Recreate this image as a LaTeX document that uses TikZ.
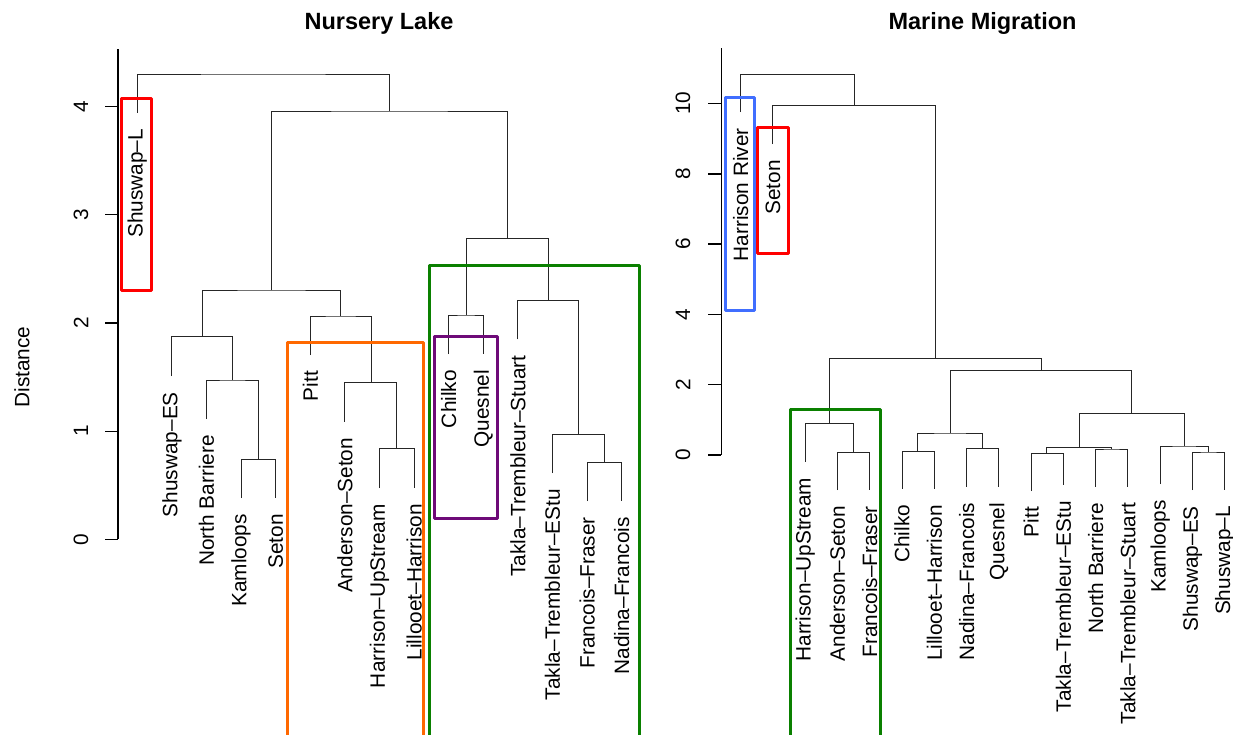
\documentclass[tikz,border=0pt]{standalone}
\usepackage{fontspec}
\setmainfont{Liberation Sans}
\definecolor{cred}{RGB}{255,0,0}
\definecolor{corange}{RGB}{255,104,0}
\definecolor{cgreen}{RGB}{10,128,0}
\definecolor{cpurple}{RGB}{110,10,120}
\definecolor{cblue}{RGB}{64,110,255}
\begin{document}
\begin{tikzpicture}[x=1pt,y=-1pt,
  tree/.style={draw=black!85,line width=1pt},
  axisline/.style={draw=black,line width=1.1pt},
  hilite/.style={line width=3pt,line join=round},
  leaflab/.style={rotate=90,anchor=east,inner sep=0pt,font=\fontsize{20.8}{24}\selectfont},
  ticklab/.style={rotate=90,anchor=center,inner sep=0pt,font=\fontsize{20.8}{24}\selectfont},
  titlelab/.style={anchor=base,inner sep=0pt,font=\fontsize{23.5}{27}\selectfont\bfseries}]
\useasboundingbox (0,0) rectangle (1233,734);
\fill[white] (0,0) rectangle (1233,734);

% ---------------- titles ----------------
\node[titlelab] (t1) at (379,29) {Nursery Lake};
\node[titlelab] (t2) at (982.5,29) {Marine Migration};
\node[ticklab] (ylab) at (22,367) {Distance};

% ---------------- left axis ----------------
\draw[axisline] (118,49) -- (118,539.4);
\foreach \v/\yy in {0/539.4,1/431.2,2/323,3/214.8,4/106.6}{
  \draw[axisline] (105,\yy) -- (118,\yy);
  \node[ticklab] (la\v) at (81,\yy) {\v};
}

% ---------------- right axis ----------------
\draw[axisline] (721.3,48) -- (721.3,455);
\foreach \v/\yy in {0/455,2/384.7,4/314.3,6/244,8/174,10/103.3}{
  \draw[axisline] (708.3,\yy) -- (721.3,\yy);
  \node[ticklab] (ra\v) at (683,\yy) {\v};
}

% ---------------- left dendrogram: leaf tips ----------------
\foreach \k/\e/\lab in {1/112.7/Shuswap–L,2/376/Shuswap–ES,3/419/North Barriere,4/498/Kamloops,5/498/Seton,
  6/355/Pitt,7/421.7/Anderson–Seton,8/488/Harrison–UpStream,9/488/Lillooet–Harrison,10/354/Chilko,
  11/354/Quesnel,12/339.3/Takla–Trembleur–Stuart,13/473/Takla–Trembleur–EStu,14/501/Francois–Fraser,15/501/Nadina–Francois}{
  \coordinate (L\k) at ({137.3+34.6*(\k-1)},\e);
  \node[leaflab] (LL\k) at ({137.3+34.6*(\k-1)},\e+16) {\lab};
}
% merge points
\coordinate (m45) at (258.5,459.3);
\coordinate (m345) at (232.6,380);
\coordinate (m2345) at (202.3,336.7);
\coordinate (m89) at (396.85,448.7);
\coordinate (m789) at (371,382.7);
\coordinate (m6789) at (340.6,316);
\coordinate (mA) at (271.5,290);
\coordinate (m1011) at (466.3,315);
\coordinate (m1415) at (604.7,462.3);
\coordinate (m1315) at (578.7,434.3);
\coordinate (m1215) at (548.3,300.7);
\coordinate (mB) at (507.3,238.3);
\coordinate (mAB) at (389.4,111);
\coordinate (mroot) at (263,74);

\draw[tree] (L4) |- (m45) -| (L5);
\draw[tree] (L3) |- (m345) -| (m45);
\draw[tree] (L2) |- (m2345) -| (m345);
\draw[tree] (L8) |- (m89) -| (L9);
\draw[tree] (L7) |- (m789) -| (m89);
\draw[tree] (L6) |- (m6789) -| (m789);
\draw[tree] (m2345) |- (mA) -| (m6789);
\draw[tree] (L10) |- (m1011) -| (L11);
\draw[tree] (L14) |- (m1415) -| (L15);
\draw[tree] (L13) |- (m1315) -| (m1415);
\draw[tree] (L12) |- (m1215) -| (m1315);
\draw[tree] (m1011) |- (mB) -| (m1215);
\draw[tree] (mA) |- (mAB) -| (mB);
\draw[tree] (L1) |- (mroot) -| (mAB);

% ---------------- right dendrogram: leaf tips ----------------
\foreach \k/\e/\lab in {1/112/Harrison River,2/144/Seton,3/461.5/Harrison–UpStream,4/490/Anderson–Seton,
  5/490/Francois–Fraser,6/488.7/Chilko,7/488.7/Lillooet–Harrison,8/486.7/Nadina–Francois,9/486.7/Quesnel,
  10/491/Pitt,11/485/Takla–Trembleur–EStu,12/486.7/North Barriere,13/486.7/Takla–Trembleur–Stuart,
  14/484/Kamloops,15/490/Shuswap–ES,16/490/Shuswap–L}{
  \coordinate (R\k) at ({740.7+32.267*(\k-1)},\e);
  \node[leaflab] (RL\k) at ({740.7+32.267*(\k-1)},\e+16) {\lab};
}
\coordinate (r45) at (853.3,452.3);
\coordinate (r345) at (829.5,423.3);
\coordinate (r67) at (917.8,451.3);
\coordinate (r89) at (982.8,448.7);
\coordinate (r6789) at (950.3,433);
\coordinate (r1011) at (1046.9,453.3);
\coordinate (r1213) at (1111.7,449);
\coordinate (rTT) at (1079.3,447.7);
\coordinate (r1516) at (1208.7,452);
\coordinate (r1416) at (1184,446);
\coordinate (rTK) at (1131.7,413.3);
\coordinate (rC) at (1041,370.7);
\coordinate (rD) at (935.3,358.3);
\coordinate (rE) at (854,105.7);
\coordinate (rroot) at (797,74.3);

\draw[tree] (R4) |- (r45) -| (R5);
\draw[tree] (R3) |- (r345) -| (r45);
\draw[tree] (R6) |- (r67) -| (R7);
\draw[tree] (R8) |- (r89) -| (R9);
\draw[tree] (r67) |- (r6789) -| (r89);
\draw[tree] (R10) |- (r1011) -| (R11);
\draw[tree] (R12) |- (r1213) -| (R13);
\draw[tree] (r1011) |- (rTT) -| (r1213);
\draw[tree] (R15) |- (r1516) -| (R16);
\draw[tree] (R14) |- (r1416) -| (r1516);
\draw[tree] (rTT) |- (rTK) -| (r1416);
\draw[tree] (r6789) |- (rC) -| (rTK);
\draw[tree] (r345) |- (rD) -| (rC);
\draw[tree] (R2) |- (rE) -| (rD);
\draw[tree] (R1) |- (rroot) -| (rE);

% ---------------- highlight boxes ----------------
\draw[hilite,cred] (121.7,98.3) rectangle (151.3,290.7);
\draw[hilite,corange] (287.3,740) -- (287.3,342) -- (423.3,342) -- (423.3,740);
\draw[hilite,cgreen] (429.3,740) -- (429.3,265.3) -- (639,265.3) -- (639,740);
\draw[hilite,cpurple] (434.7,336) rectangle (497,518.3);
\draw[hilite,cblue] (725,97.3) rectangle (754,310);
\draw[hilite,cred] (757.3,127.7) rectangle (788,253.3);
\draw[hilite,cgreen] (790,740) -- (790,409.7) -- (880.7,409.7) -- (880.7,740);
\end{tikzpicture}
\end{document}
